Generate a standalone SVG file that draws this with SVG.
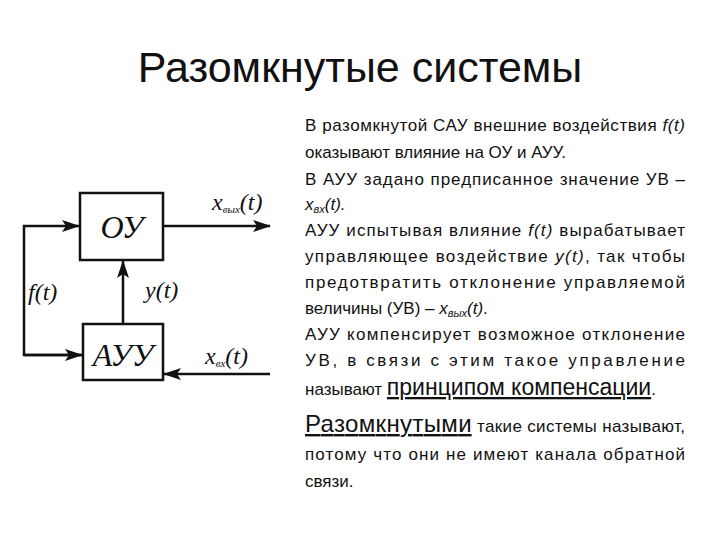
<svg xmlns="http://www.w3.org/2000/svg" width="720" height="540" viewBox="0 0 720 540">
<style>
.t{font-family:"Liberation Sans",Arial,sans-serif;font-size:17px;fill:#111}
.i{font-style:italic}
.s{font-size:11px}
.m{font-family:"Liberation Serif","Times New Roman",serif;font-style:italic;fill:#111}
.ln{stroke:#111;stroke-width:2.5;fill:none}
.bx{stroke:#111;stroke-width:2.5;fill:#fff}
</style>
<defs><marker id="ab" markerWidth="18" markerHeight="12" refX="17" refY="6" orient="auto" markerUnits="userSpaceOnUse"><path d="M0,0L18,6L0,12L4,6Z" fill="#111"/></marker></defs>
<rect width="720" height="540" fill="#fff"/>
<text x="360" y="82" text-anchor="middle" style="font-family:'Liberation Sans',Arial,sans-serif;font-size:43px;fill:#111">Разомкнутые системы</text>
<g id="connectors">
<polyline class="ln" points="83,355 24,355 24,226 79,226" marker-end="url(#ab)"/>
<line class="ln" x1="24" y1="355" x2="82" y2="355" marker-end="url(#ab)"/>
<line class="ln" x1="163" y1="226" x2="270" y2="226" marker-end="url(#ab)"/>
<line class="ln" x1="270" y1="374" x2="164" y2="374" marker-end="url(#ab)"/>
<line class="ln" x1="123" y1="324" x2="123" y2="261" marker-end="url(#ab)"/>
</g>
<g id="OU"><rect class="bx" x="80" y="193" width="83" height="67"/><text class="m" x="122" y="238" text-anchor="middle" font-size="32">ОУ</text></g>
<g id="AUU"><rect class="bx" x="83" y="324" width="80" height="56"/><text class="m" x="123" y="366" text-anchor="middle" font-size="32">АУУ</text></g>
<g id="labels" class="m" font-size="24">
<text x="212" y="210">x<tspan font-size="11" dy="3">вых</tspan><tspan dy="-3">(t)</tspan></text>
<text x="28" y="300">f(t)</text>
<text x="145" y="298">y(t)</text>
<text x="205" y="364">x<tspan font-size="11" dy="3">вх</tspan><tspan dy="-3">(t)</tspan></text>
</g>
<g id="text" class="t">
<text x="305" y="131" textLength="380" lengthAdjust="spacing">В разомкнутой САУ внешние воздействия <tspan class="i">f(t)</tspan></text>
<text x="305" y="158">оказывают влияние на ОУ и АУУ.</text>
<text x="305" y="185" textLength="380" lengthAdjust="spacing">В АУУ задано предписанное значение УВ –</text>
<text x="305" y="210" class="t i">x<tspan class="s" dy="3">вх</tspan><tspan dy="-3">(t).</tspan></text>
<text x="305" y="236" textLength="380" lengthAdjust="spacing">АУУ испытывая влияние <tspan class="i">f(t)</tspan> вырабатывает</text>
<text x="305" y="262" textLength="380" lengthAdjust="spacing">управляющее воздействие <tspan class="i">y(t)</tspan>, так чтобы</text>
<text x="305" y="288" textLength="380" lengthAdjust="spacing">предотвратить отклонение управляемой</text>
<text x="305" y="314">величины (УВ) – <tspan class="i">x</tspan><tspan class="i s" dy="3">вых</tspan><tspan class="i" dy="-3">(t)</tspan>.</text>
<text x="305" y="340" textLength="380" lengthAdjust="spacing">АУУ компенсирует возможное отклонение</text>
<text x="305" y="366" textLength="380" lengthAdjust="spacing">УВ, в связи с этим такое управление</text>
<text x="305" y="395">называют <tspan font-size="23" text-decoration="underline">принципом компенсации</tspan>.</text>
<text x="305" y="432" textLength="380" lengthAdjust="spacing"><tspan font-size="24" text-decoration="underline">Разомкнутыми</tspan> такие системы называют,</text>
<text x="305" y="460" textLength="380" lengthAdjust="spacing">потому что они не имеют канала обратной</text>
<text x="305" y="487">связи.</text>
</g>
</svg>
